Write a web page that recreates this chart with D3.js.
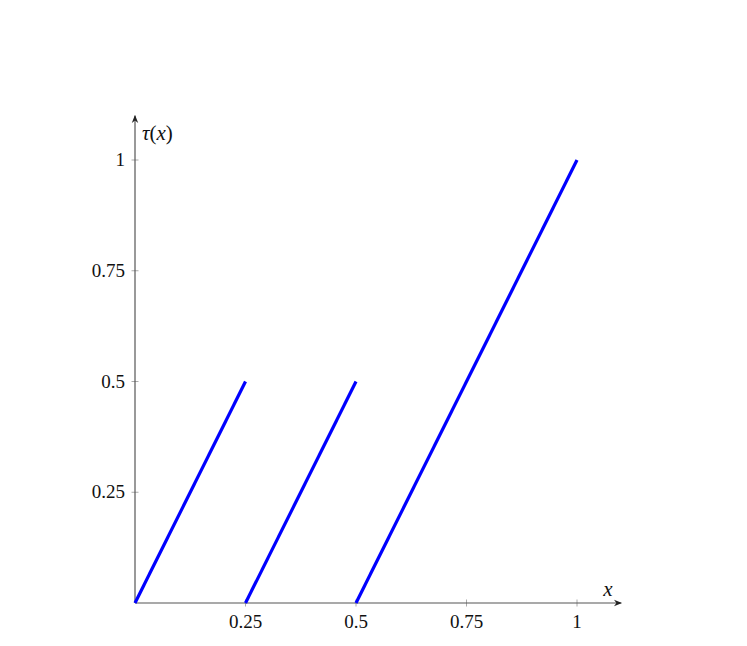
<!DOCTYPE html>
<html><head><meta charset="utf-8">
<script src="https://cdn.jsdelivr.net/npm/d3@7"></script>
<style>body{margin:0;background:#fff}svg{display:block}</style>
</head><body>
<script>
const segStartX = [0, 0.25, 0.5];
const segStartY = [0, 0, 0];
const segEndX = [0.25, 0.5, 1];
const segEndY = [0.5, 0.5, 1];
const xTicks = [0.25, 0.5, 0.75, 1];
const xTickLabels = ["0.25", "0.5", "0.75", "1"];
const yTicks = [0.25, 0.5, 0.75, 1];
const yTickLabels = ["0.25", "0.5", "0.75", "1"];

const W = 747, H = 646;
const svg = d3.select("body").append("svg").attr("width", W).attr("height", H);
const x = d3.scaleLinear().domain([0, 1]).range([135, 577]);
const y = d3.scaleLinear().domain([0, 1]).range([603, 160]);
const font = "'Liberation Serif',serif";

svg.append("defs").append("marker").attr("id", "arr").attr("viewBox", "0 0 10 10")
  .attr("refX", 9).attr("refY", 5).attr("markerWidth", 8).attr("markerHeight", 8)
  .attr("markerUnits", "userSpaceOnUse").attr("orient", "auto")
  .append("path").attr("d", "M0,1 L10,5 L0,9 L3,5 Z").attr("fill", "#222");

// ticks
const g = svg.append("g");
g.selectAll(".xt").data(xTicks).join("line")
  .attr("x1", d => x(d)).attr("x2", d => x(d)).attr("y1", y(0) - 3.5).attr("y2", y(0) + 3.5)
  .attr("stroke", "#aaa").attr("stroke-width", 1);
g.selectAll(".yt").data(yTicks).join("line")
  .attr("y1", d => y(d)).attr("y2", d => y(d)).attr("x1", x(0) - 3.5).attr("x2", x(0) + 3.5)
  .attr("stroke", "#aaa").attr("stroke-width", 1);

// axes
svg.append("line").attr("x1", x(0)).attr("y1", y(0)).attr("x2", x(1.1)).attr("y2", y(0))
  .attr("stroke", "#555").attr("stroke-width", 1.2).attr("marker-end", "url(#arr)");
svg.append("line").attr("x1", x(0)).attr("y1", y(0)).attr("x2", x(0)).attr("y2", y(1.1))
  .attr("stroke", "#555").attr("stroke-width", 1.2).attr("marker-end", "url(#arr)");

// tick labels
svg.selectAll(".xl").data(xTicks).join("text")
  .attr("x", d => x(d)).attr("y", y(0) + 25).attr("text-anchor", "middle")
  .attr("font-family", font).attr("font-size", 19).attr("fill", "#111")
  .text((d, i) => xTickLabels[i]);
svg.selectAll(".yl").data(yTicks).join("text")
  .attr("x", x(0) - 10).attr("y", d => y(d) + 6).attr("text-anchor", "end")
  .attr("font-family", font).attr("font-size", 19).attr("fill", "#111")
  .text((d, i) => yTickLabels[i]);

// axis labels
svg.append("text").attr("x", x(0) + 7).attr("y", 140).attr("font-family", font)
  .attr("font-size", 21).attr("fill", "#111")
  .html("<tspan font-style='italic'>τ</tspan>(<tspan font-style='italic'>x</tspan>)");
svg.append("text").attr("x", 608).attr("y", 596).attr("text-anchor", "middle").attr("font-family", font)
  .attr("font-size", 21).attr("font-style", "italic").attr("fill", "#111").text("x");

// segments
svg.selectAll(".seg").data(segStartX).join("line")
  .attr("x1", (d, i) => x(segStartX[i])).attr("y1", (d, i) => y(segStartY[i]))
  .attr("x2", (d, i) => x(segEndX[i])).attr("y2", (d, i) => y(segEndY[i]))
  .attr("stroke", "#0000ff").attr("stroke-width", 3.2).attr("stroke-linecap", "butt");
</script>
</body></html>
